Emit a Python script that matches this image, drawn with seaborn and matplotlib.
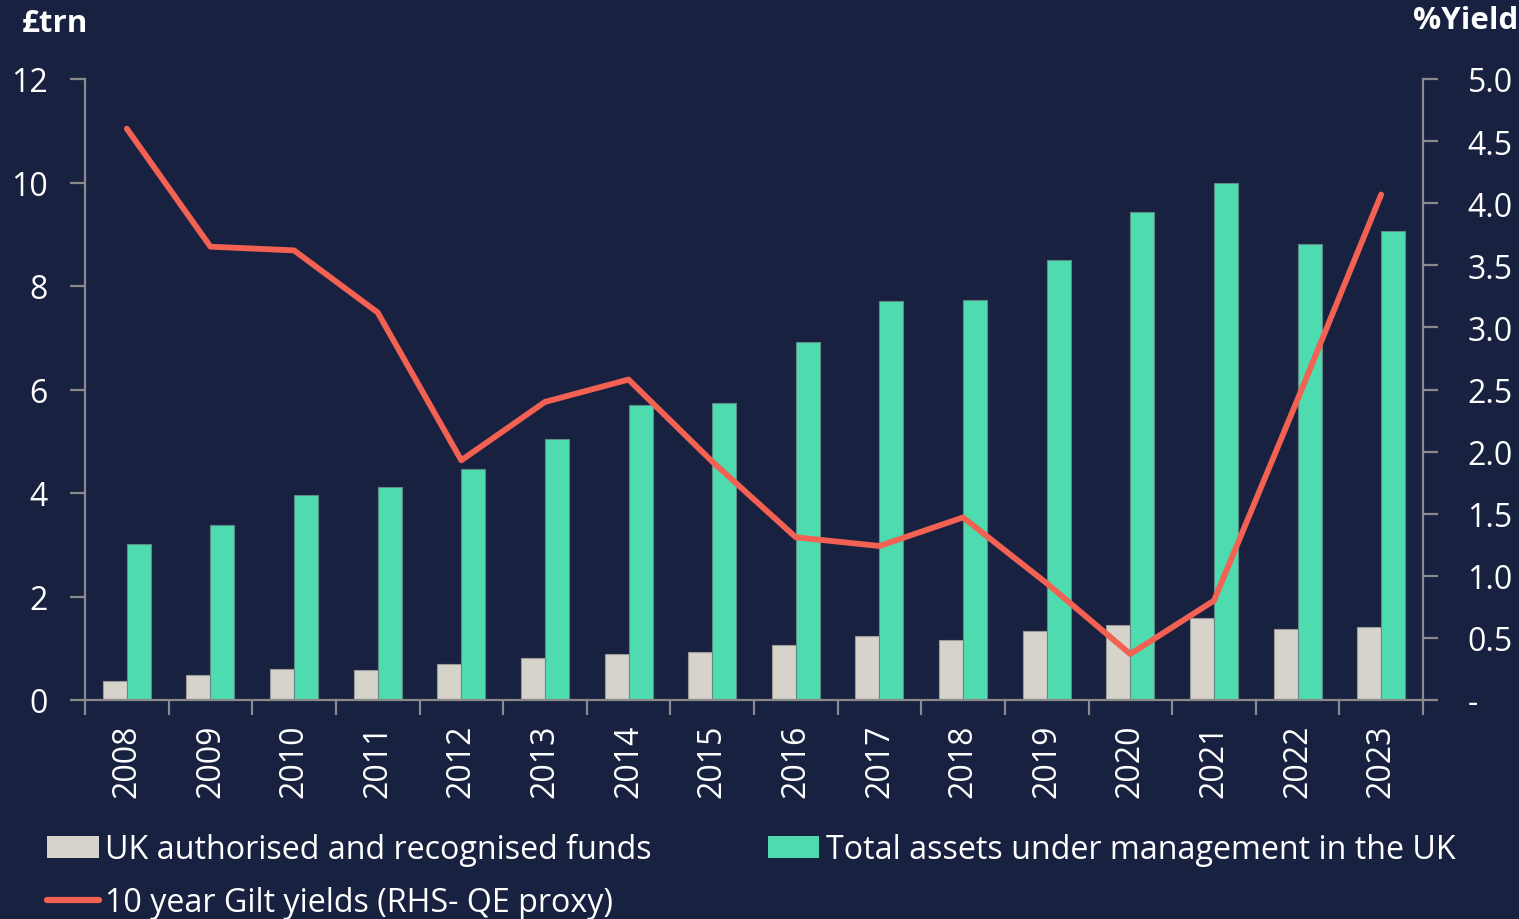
import numpy as np
import pandas as pd
import matplotlib
matplotlib.use("Agg")
import matplotlib.pyplot as plt
from matplotlib.patches import Patch
from matplotlib.lines import Line2D
from matplotlib.ticker import FixedLocator
import seaborn as sns

# ---------------- data ----------------
years = ["2008", "2009", "2010", "2011", "2012", "2013", "2014", "2015",
         "2016", "2017", "2018", "2019", "2020", "2021", "2022", "2023"]
uk_funds = [0.36, 0.49, 0.59, 0.58, 0.70, 0.82, 0.89, 0.93,
            1.06, 1.23, 1.15, 1.33, 1.44, 1.58, 1.37, 1.42]
total_aum = [3.01, 3.38, 3.96, 4.12, 4.46, 5.04, 5.70, 5.74,
             6.92, 7.71, 7.73, 8.50, 9.43, 9.99, 8.81, 9.06]
gilt_yield = [4.60, 3.65, 3.62, 3.12, 1.93, 2.40, 2.58, 1.92,
              1.31, 1.24, 1.47, 0.94, 0.37, 0.80, 2.42, 4.07]
series_names = ["UK authorised and recognised funds",
                "Total assets under management in the UK"]
line_name = "10 year Gilt yields (RHS- QE proxy)"
left_ticks = [0, 2, 4, 6, 8, 10, 12]
right_ticks = [0, 0.5, 1.0, 1.5, 2.0, 2.5, 3.0, 3.5, 4.0, 4.5, 5.0]
right_labels = ["-", "0.5", "1.0", "1.5", "2.0", "2.5", "3.0", "3.5", "4.0", "4.5", "5.0"]

BG = "#182140"
GREY = "#d6d3cb"
TEAL = "#4fdbb0"
RED = "#f26152"
AX = "#8a8a8a"
FONT = ["Open Sans", "DejaVu Sans"]

df = pd.DataFrame({
    "year": years * 2,
    "series": [series_names[0]] * len(years) + [series_names[1]] * len(years),
    "value": uk_funds + total_aum,
})

sns.set_theme(style="white")
plt.rcParams["font.family"] = FONT

fig = plt.figure(figsize=(15.19, 9.2), dpi=100, facecolor=BG)
ax = fig.add_axes([85 / 1519, 1 - 701 / 920, (1423 - 85) / 1519, (701 - 80) / 920])
ax.set_facecolor(BG)

sns.barplot(data=df, x="year", y="value", hue="series", order=years,
            hue_order=series_names, palette=[GREY, TEAL], saturation=1,
            width=0.574, linewidth=0.8, edgecolor="#5f8c86", ax=ax, legend=False)
for p in ax.patches[:len(years)]:
    p.set_edgecolor("#9a9a96")

ax.set_xlim(-0.5, len(years) - 0.5)
ax.set_ylim(0, 12)
ax.set_yticks(left_ticks)
ax.set_yticklabels([str(t) for t in left_ticks])
ax.set_xlabel("")
ax.set_ylabel("")
ax.xaxis.set_minor_locator(FixedLocator(np.arange(-0.5, len(years), 1.0)))
ax.tick_params(axis="x", which="major", length=0, pad=17, labelsize=23,
               labelcolor="white", rotation=90)
ax.tick_params(axis="x", which="minor", length=11, width=1.6, color=AX, direction="out", bottom=True)
ax.tick_params(axis="y", which="major", length=11, width=1.6, color=AX, direction="out",
               pad=16, labelsize=23, labelcolor="white", left=True)
for s in ["top", "right"]:
    ax.spines[s].set_visible(False)
for s in ["left", "bottom"]:
    ax.spines[s].set_color(AX)
    ax.spines[s].set_linewidth(1.6)

ax2 = ax.twinx()
sns.lineplot(x=np.arange(len(years)), y=gilt_yield, color=RED, linewidth=4.2,
             ax=ax2, legend=False)
ax2.set_ylim(0, 5)
ax2.set_xlim(-0.5, len(years) - 0.5)
ax2.set_yticks(right_ticks)
ax2.set_yticklabels(right_labels)
ax2.tick_params(axis="y", length=11, width=1.6, color=AX, direction="out",
                pad=21, labelsize=23, labelcolor="white", right=True)
for s in ["top", "left", "bottom"]:
    ax2.spines[s].set_visible(False)
ax2.spines["right"].set_color(AX)
ax2.spines["right"].set_linewidth(1.6)

fig.text(22 / 1519, 1 - 24 / 920, "£trn", color="white", fontsize=22.5,
         fontweight="bold", ha="left", va="center")
fig.text(1518 / 1519, 1 - 21 / 920, "%Yield", color="white", fontsize=22.5,
         fontweight="bold", ha="right", va="center")

handles = [Patch(facecolor=GREY, edgecolor="none"),
           Line2D([0], [0], color=RED, linewidth=4.5),
           Patch(facecolor=TEAL, edgecolor="none")]
labels = [series_names[0], line_name, series_names[1]]
leg = fig.legend(handles, labels, ncol=2, loc="upper left",
                 bbox_to_anchor=(47 / 1519, 1 - 834 / 920), frameon=False,
                 fontsize=23.2, labelcolor="white", handlelength=1.6, handleheight=0.65,
                 handletextpad=0.2, columnspacing=3.6, labelspacing=0.6,
                 borderpad=0, borderaxespad=0)

fig.savefig("out.png", dpi=100, facecolor=BG)
